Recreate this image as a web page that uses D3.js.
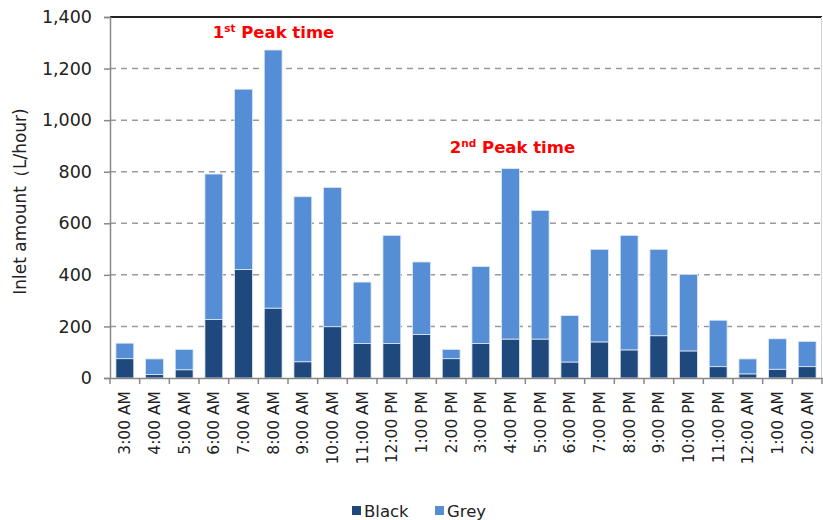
<!DOCTYPE html>
<html>
<head>
<meta charset="utf-8">
<script src="https://cdn.jsdelivr.net/npm/d3@7"></script>
<style>
  body { margin: 0; background: #fff; }
  svg { font-family: "DejaVu Sans", Verdana, sans-serif; }
</style>
</head>
<body>
<div id="chart"></div>
<script>
'use strict'

// hours of the day, 3 AM through 2 AM
const hours = ['3:00 AM','4:00 AM','5:00 AM','6:00 AM','7:00 AM','8:00 AM','9:00 AM','10:00 AM',
  '11:00 AM','12:00 PM','1:00 PM','2:00 PM','3:00 PM','4:00 PM','5:00 PM','6:00 PM','7:00 PM',
  '8:00 PM','9:00 PM','10:00 PM','11:00 PM','12:00 AM','1:00 AM','2:00 AM']
const black = [75, 14, 32, 227, 421, 271, 63, 199, 134, 134, 169, 75, 134, 151, 151, 62, 140, 109, 164, 105, 44, 16, 34, 44]
const grey  = [60, 60, 79, 564, 699, 1001, 640, 540, 238, 419, 281, 36, 298, 661, 499, 180, 359, 444, 335, 297, 180, 58, 118, 98]
const yTicks = [0, 200, 400, 600, 800, 1000, 1200, 1400]
const seriesNames = ['Black', 'Grey']
const colors = ['#1f497d', '#558ed5']

const width = 823, height = 520
const margin = {top: 17, right: 1, bottom: 142, left: 110}

const data = hours.map((h, i) => ({hour: h, Black: black[i], Grey: grey[i]}))
const stack = d3.stack().keys(seriesNames)(data)

const svg = d3.select('#chart').append('svg')
  .attr('width', width)
  .attr('height', height)

const x = d3.scaleBand()
  .domain(hours)
  .range([margin.left, width - margin.right])
  .paddingInner(0.4)
  .paddingOuter(0.2)

const y = d3.scaleLinear()
  .domain([0, 1400])
  .range([height - margin.bottom, margin.top])

// grid lines
svg.append('g')
  .selectAll('line')
  .data(yTicks.slice(1, -1))
  .enter().append('line')
  .attr('x1', margin.left).attr('x2', width - margin.right)
  .attr('y1', d => y(d)).attr('y2', d => y(d))
  .attr('stroke', '#9a9a9a')
  .attr('stroke-width', 1.5)
  .attr('stroke-dasharray', '6,5')

// top border and right border
svg.append('line')
  .attr('x1', margin.left).attr('x2', width - margin.right)
  .attr('y1', y(1400)).attr('y2', y(1400))
  .attr('stroke', '#222').attr('stroke-width', 2)
svg.append('line')
  .attr('x1', width - margin.right - 0.5).attr('x2', width - margin.right - 0.5)
  .attr('y1', y(1400)).attr('y2', y(0))
  .attr('stroke', '#d0d0d0').attr('stroke-width', 1)

// bars
const layer = svg.selectAll('.layer')
  .data(stack)
  .enter().append('g')
  .attr('class', 'layer')
  .attr('fill', (d, i) => colors[i])

layer.selectAll('rect')
  .data(d => d)
  .enter().append('rect')
  .attr('x', d => x(d.data.hour))
  .attr('width', x.bandwidth())
  .attr('y', d => y(d[1]))
  .attr('height', d => y(d[0]) - y(d[1]))
  .attr('stroke', '#dde8f5')
  .attr('stroke-width', 0.8)

// y axis
const yAxis = svg.append('g')
  .attr('transform', 'translate(' + margin.left + ',0)')
  .call(d3.axisLeft(y).tickValues(yTicks).tickSize(6).tickPadding(12).tickFormat(d3.format(',')))
yAxis.select('.domain').attr('stroke', '#888').attr('stroke-width', 1.5)
yAxis.selectAll('.tick line').attr('stroke', '#888').attr('stroke-width', 1.5)
yAxis.selectAll('text').attr('font-size', 17.5).attr('fill', '#222')
  .attr('font-family', '"DejaVu Sans", Verdana, sans-serif')

// x axis
const step = x.step()
const xAxis = svg.append('g')
  .attr('transform', 'translate(0,' + y(0) + ')')
  .call(d3.axisBottom(x).tickSize(0).tickPadding(0))
xAxis.select('.domain').attr('stroke', '#888').attr('stroke-width', 1.5)
xAxis.selectAll('.tick text')
  .attr('font-size', 15.5)
  .attr('fill', '#222')
  .attr('font-family', '"DejaVu Sans", Verdana, sans-serif')
  .attr('transform', 'rotate(-90)')
  .attr('text-anchor', 'end')
  .attr('x', -13)
  .attr('y', 0)
  .attr('dy', '0.35em')
// category boundary ticks
xAxis.append('g')
  .selectAll('line')
  .data(d3.range(hours.length + 1))
  .enter().append('line')
  .attr('x1', i => margin.left + i * step)
  .attr('x2', i => margin.left + i * step)
  .attr('y1', 0).attr('y2', 6)
  .attr('stroke', '#888').attr('stroke-width', 1.5)

// y axis title
svg.append('text')
  .attr('transform', 'translate(26,' + ((y(0) + y(1400)) / 2 + 4) + ') rotate(-90)')
  .attr('text-anchor', 'middle')
  .attr('font-size', 17)
  .attr('fill', '#222')
  .text('Inlet amount（L/hour)')

// peak annotations
function peak(cx, cy, num, sup) {
  const t = svg.append('text')
    .attr('x', cx).attr('y', cy)
    .attr('text-anchor', 'middle')
    .attr('fill', '#ff0000')
    .attr('font-weight', 'bold')
    .attr('font-size', 16.5)
  t.append('tspan').text(num)
  t.append('tspan').attr('font-size', 10.5).attr('dy', -6).text(sup)
  t.append('tspan').attr('dy', 6).text(' Peak time')
}
peak(x('7:00 AM') + x.bandwidth() / 2 + 30, 38, '1', 'st')
peak(x('4:00 PM') + x.bandwidth() / 2 + 2, 153, '2', 'nd')

// legend
const legend = svg.append('g')
  .attr('transform', 'translate(352,511)')
const li = legend.selectAll('g')
  .data(seriesNames)
  .enter().append('g')
  .attr('transform', (d, i) => 'translate(' + (i * 83) + ',0)')
li.append('rect')
  .attr('x', 0).attr('y', -5)
  .attr('width', 9).attr('height', 9)
  .attr('fill', (d, i) => colors[i])
li.append('text')
  .attr('x', 12).attr('y', 0)
  .attr('dy', '0.35em')
  .attr('font-size', 16.5)
  .attr('fill', '#222')
  .text(d => d)
</script>
</body>
</html>
